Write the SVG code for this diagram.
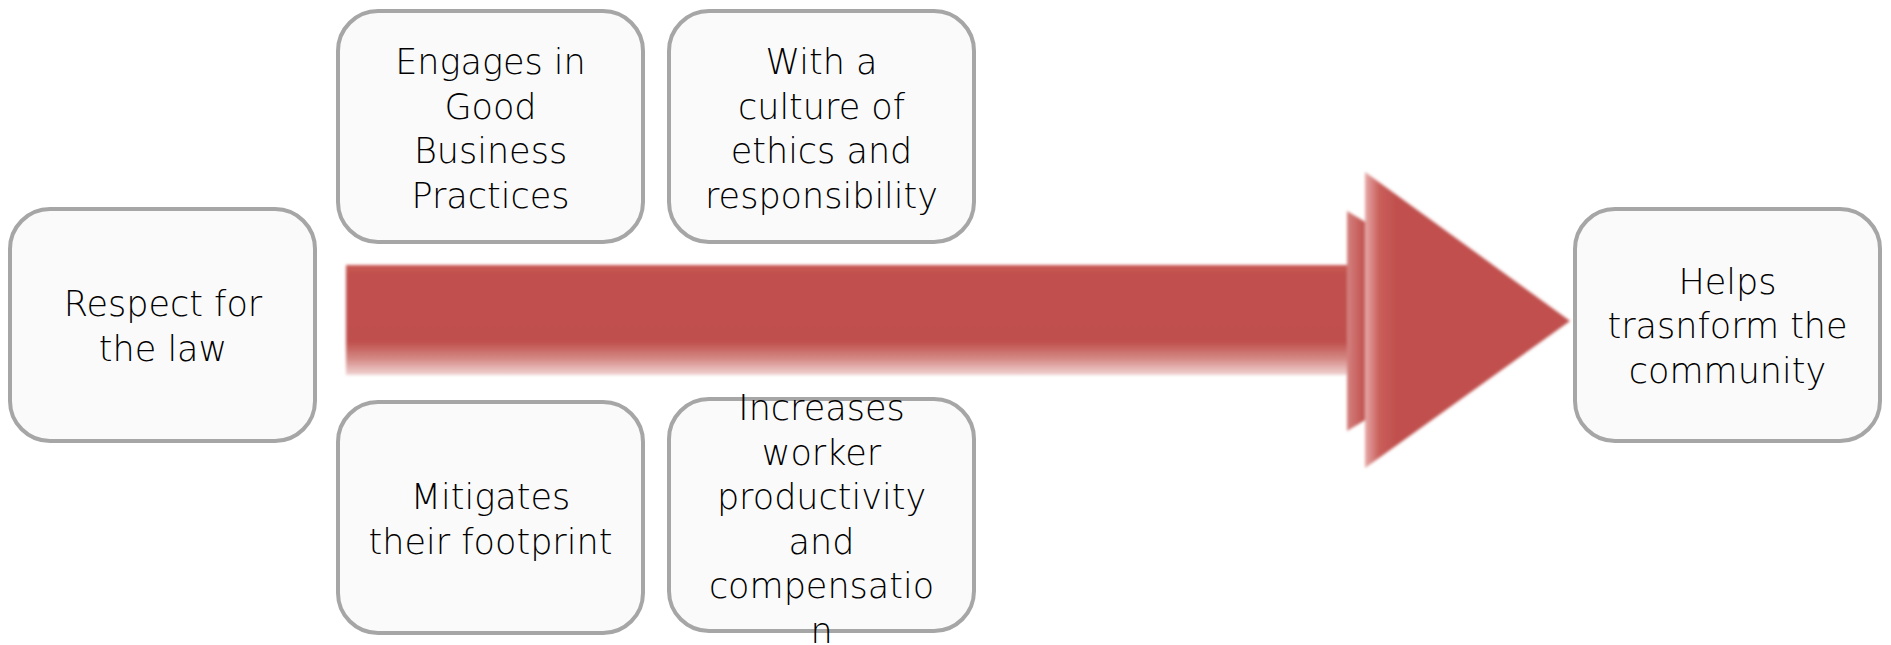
<svg xmlns="http://www.w3.org/2000/svg" width="1891" height="645" viewBox="0 0 1891 645">
  <defs>
    <style>
      .box { fill: #fafafa; stroke: #a6a6a6; stroke-width: 4; }
      .lbl { font-family: "DejaVu Sans", "Liberation Sans", sans-serif; font-size: 35px; font-weight: 200; fill: #000; text-anchor: middle; }
    </style>
    <linearGradient id="shaftGrad" x1="0" y1="0" x2="0" y2="1">
      <stop offset="0" stop-color="#c95a55"/>
      <stop offset="0.08" stop-color="#c0504d"/>
      <stop offset="0.7" stop-color="#bf504d"/>
      <stop offset="0.85" stop-color="#d48884"/>
      <stop offset="1" stop-color="#f0d4d3"/>
    </linearGradient>
    <linearGradient id="headGrad" x1="0" y1="0" x2="1" y2="0">
      <stop offset="0" stop-color="#e6a9a7"/>
      <stop offset="0.07" stop-color="#c95e5a"/>
      <stop offset="0.15" stop-color="#c0504d"/>
      <stop offset="1" stop-color="#c0504d"/>
    </linearGradient>
    <linearGradient id="backGrad" x1="0" y1="0" x2="1" y2="0">
      <stop offset="0" stop-color="#d4817e"/>
      <stop offset="0.1" stop-color="#c0504d"/>
      <stop offset="1" stop-color="#c0504d"/>
    </linearGradient>
    <filter id="soft" x="-5%" y="-5%" width="110%" height="110%">
      <feGaussianBlur stdDeviation="1.5"/>
    </filter>
  </defs>
  <rect width="1891" height="645" fill="#ffffff"/>

  <g id="connectors">
    <g filter="url(#soft)">
      <rect x="346" y="265" width="1006" height="110" fill="url(#shaftGrad)"/>
      <polygon points="1347,211 1530,321 1347,431" fill="url(#backGrad)"/>
      <polygon points="1365,172 1570,321 1365,468" fill="url(#headGrad)"/>
    </g>
  </g>

  <g id="node-respect">
    <rect class="box" x="10" y="209" width="305" height="232" rx="40" ry="40"/>
    <text class="lbl" x="163" y="316">Respect for</text>
    <text class="lbl" x="163" y="360.5">the law</text>
  </g>

  <g id="node-engages">
    <rect class="box" x="338" y="11" width="305" height="231" rx="40" ry="40"/>
    <text class="lbl" x="490.5" y="74">Engages in</text>
    <text class="lbl" x="490.5" y="118.5">Good</text>
    <text class="lbl" x="490.5" y="163">Business</text>
    <text class="lbl" x="490.5" y="207.5">Practices</text>
  </g>

  <g id="node-culture">
    <rect class="box" x="669" y="11" width="305" height="231" rx="40" ry="40"/>
    <text class="lbl" x="821.5" y="74">With a</text>
    <text class="lbl" x="821.5" y="118.5">culture of</text>
    <text class="lbl" x="821.5" y="163">ethics and</text>
    <text class="lbl" x="821.5" y="207.5">responsibility</text>
  </g>

  <g id="node-mitigates">
    <rect class="box" x="338" y="402" width="305" height="231" rx="40" ry="40"/>
    <text class="lbl" x="490.5" y="509">Mitigates</text>
    <text class="lbl" x="490.5" y="553.5">their footprint</text>
  </g>

  <g id="node-increases">
    <rect class="box" x="669" y="399" width="305" height="232" rx="40" ry="40"/>
    <text class="lbl" x="821.5" y="420">Increases</text>
    <text class="lbl" x="821.5" y="464.5">worker</text>
    <text class="lbl" x="821.5" y="509">productivity</text>
    <text class="lbl" x="821.5" y="553.5">and</text>
    <text class="lbl" x="821.5" y="598">compensatio</text>
    <text class="lbl" x="821.5" y="642.5">n</text>
  </g>

  <g id="node-helps">
    <rect class="box" x="1575" y="209" width="305" height="232" rx="40" ry="40"/>
    <text class="lbl" x="1727.5" y="293.5">Helps</text>
    <text class="lbl" x="1727.5" y="338">trasnform the</text>
    <text class="lbl" x="1727.5" y="382.5">community</text>
  </g>
</svg>
